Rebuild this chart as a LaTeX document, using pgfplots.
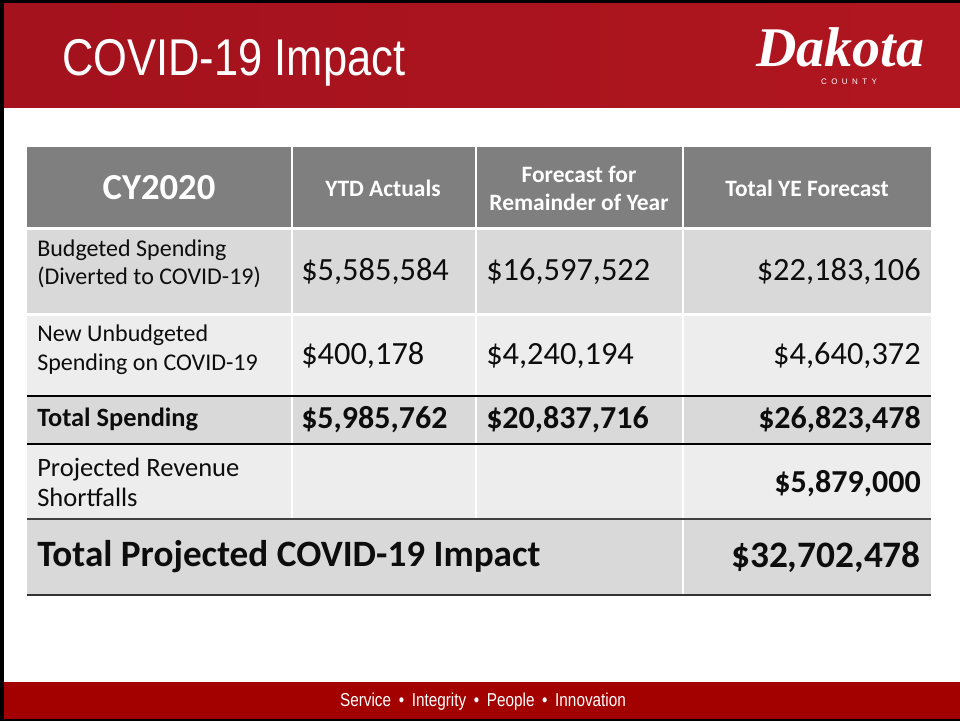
\documentclass[border=0pt]{standalone}
\usepackage{pgfplots}
\pgfplotsset{compat=1.18}
\usepackage{fontspec}
\setmainfont{Carlito}
\newfontfamily\arialf{Liberation Sans}
\newfontfamily\seriff{Liberation Serif}
\newfontfamily\spacedf{Liberation Sans}[LetterSpace=55]
\definecolor{hdr}{HTML}{7F7F7F}
\definecolor{rowA}{HTML}{D9D9D9}
\definecolor{rowB}{HTML}{EDEDED}
\definecolor{redL}{HTML}{A3121D}
\definecolor{redR}{HTML}{B0161F}
\definecolor{footred}{HTML}{A30000}
\definecolor{txt}{HTML}{0D0D0D}
\newcommand{\fs}[2]{\fontsize{#1}{#2}\selectfont}
\begin{document}
\begin{tikzpicture}
\begin{axis}[width=720pt,height=540.75pt,scale only axis,
  xmin=0,xmax=960,ymin=0,ymax=721,y dir=reverse,
  axis lines=none,clip=false]
% background
\fill[white] (axis cs:0,0) rectangle (axis cs:960,721);
% header band
\shade[left color=redL,right color=redR] (axis cs:0,0) rectangle (axis cs:960,107);
% footer band
\fill[footred] (axis cs:0,682) rectangle (axis cs:960,719);
% slide border
\fill[black] (axis cs:0,0) rectangle (axis cs:960,3);
\fill[black] (axis cs:0,0) rectangle (axis cs:4,721);
\fill[black] (axis cs:0,719) rectangle (axis cs:960,721);
% title
\node[anchor=base west,text=white,inner sep=0pt] at (axis cs:62,75)
  {\scalebox{0.84}[1]{\arialf\fs{38.8pt}{40pt}COVID-19 Impact}};
% logo
\node[anchor=base,text=white,inner sep=0pt,text depth=0pt,text height=28pt] at (axis cs:840,66)
  {\seriff\bfseries\itshape\fs{42pt}{42pt}Dakota};
\node[anchor=base,text=white,inner sep=0pt,text height=4.5pt,text depth=0pt] at (axis cs:849,84)
  {\spacedf\fs{6pt}{6pt}COUNTY};
% footer text
\node[anchor=base,text=white,inner sep=0pt] at (axis cs:483,706)
  {\scalebox{0.82}[1]{\arialf\fs{14pt}{14pt}Service\hspace{7pt}\textbullet\hspace{7pt}Integrity\hspace{7pt}\textbullet\hspace{7pt}People\hspace{7pt}\textbullet\hspace{7pt}Innovation}};

% ---------- table backgrounds ----------
\fill[hdr]  (axis cs:27,147) rectangle (axis cs:931,227);
\fill[rowA] (axis cs:27,229) rectangle (axis cs:931,313);
\fill[rowB] (axis cs:27,315) rectangle (axis cs:931,396);
\fill[rowA] (axis cs:27,396) rectangle (axis cs:931,444);
\fill[rowB] (axis cs:27,444) rectangle (axis cs:931,519);
\fill[rowA] (axis cs:27,519) rectangle (axis cs:931,595);
% white separators
\fill[white] (axis cs:27,227) rectangle (axis cs:931,229.5);
\fill[white] (axis cs:27,313) rectangle (axis cs:931,315.5);
\fill[white] (axis cs:290.5,147) rectangle (axis cs:292.5,519);
\fill[white] (axis cs:474.5,147) rectangle (axis cs:476.5,519);
\fill[white] (axis cs:682,147) rectangle (axis cs:684,595);
% dark rules
\draw[black,line width=1.3pt] (axis cs:27,396) -- (axis cs:931,396);
\draw[black,line width=1.3pt] (axis cs:27,444) -- (axis cs:931,444);
\draw[black!75,line width=1.3pt] (axis cs:27,519) -- (axis cs:931,519);
\draw[black!80,line width=1.3pt] (axis cs:27,595) -- (axis cs:931,595);

% ---------- header text ----------
\node[text=white,inner sep=0pt,font=\bfseries\fs{27.5pt}{30pt}] at (axis cs:159,188) {CY2020};
\node[text=white,inner sep=0pt,font=\bfseries\fs{17.6pt}{20pt}] at (axis cs:383,188) {YTD Actuals};
\node[text=white,inner sep=0pt,align=center,font=\bfseries\fs{17.6pt}{21pt}] at (axis cs:579,188) {Forecast for\\Remainder of Year};
\node[text=white,inner sep=0pt,font=\bfseries\fs{17.6pt}{20pt}] at (axis cs:807,188) {Total YE Forecast};

% ---------- row labels ----------
\node[anchor=west,text=txt,inner sep=0pt,align=left,font=\fs{18pt}{21pt}] at (axis cs:37,264) {Budgeted Spending\\(Diverted to COVID-19)};
\node[anchor=west,text=txt,inner sep=0pt,align=left,font=\fs{18pt}{21.5pt}] at (axis cs:37,350) {New Unbudgeted\\Spending on COVID-19};
\node[anchor=west,text=txt,inner sep=0pt,font=\bfseries\fs{19.8pt}{22pt}] at (axis cs:37,419) {Total Spending};
\node[anchor=west,text=txt,inner sep=0pt,align=left,font=\fs{19.9pt}{22.5pt}] at (axis cs:37,482) {Projected Revenue\\Shortfalls};
\node[anchor=west,text=txt,inner sep=0pt,font=\bfseries\fs{27.9pt}{30pt}] at (axis cs:37,557) {Total Projected COVID-19 Impact};

% ---------- values ----------
% YTD Actuals
\addplot[draw=none,mark=none,nodes near coords,point meta=explicit symbolic,
  nodes near coords style={anchor=west,inner sep=0pt,text=txt,font=\fs{24.3pt}{26pt}}]
  coordinates {(301,272) [{\$5,585,584}] (301,356) [{\$400,178}]};
\addplot[draw=none,mark=none,nodes near coords,point meta=explicit symbolic,
  nodes near coords style={anchor=west,inner sep=0pt,text=txt,font=\bfseries\fs{24pt}{26pt}}]
  coordinates {(301,420) [{\$5,985,762}]};
% Forecast for remainder
\addplot[draw=none,mark=none,nodes near coords,point meta=explicit symbolic,
  nodes near coords style={anchor=west,inner sep=0pt,text=txt,font=\fs{24.3pt}{26pt}}]
  coordinates {(486,272) [{\$16,597,522}] (486,356) [{\$4,240,194}]};
\addplot[draw=none,mark=none,nodes near coords,point meta=explicit symbolic,
  nodes near coords style={anchor=west,inner sep=0pt,text=txt,font=\bfseries\fs{24pt}{26pt}}]
  coordinates {(486,420) [{\$20,837,716}]};
% Total YE forecast
\addplot[draw=none,mark=none,nodes near coords,point meta=explicit symbolic,
  nodes near coords style={anchor=east,inner sep=0pt,text=txt,font=\fs{24.3pt}{26pt}}]
  coordinates {(921,272) [{\$22,183,106}] (921,356) [{\$4,640,372}]};
\addplot[draw=none,mark=none,nodes near coords,point meta=explicit symbolic,
  nodes near coords style={anchor=east,inner sep=0pt,text=txt,font=\bfseries\fs{24pt}{26pt}}]
  coordinates {(921,420) [{\$26,823,478}] (921,484) [{\$5,879,000}]};
\addplot[draw=none,mark=none,nodes near coords,point meta=explicit symbolic,
  nodes near coords style={anchor=east,inner sep=0pt,text=txt,font=\bfseries\fs{28pt}{30pt}}]
  coordinates {(921,557) [{\$32,702,478}]};
\end{axis}
\end{tikzpicture}
\end{document}
